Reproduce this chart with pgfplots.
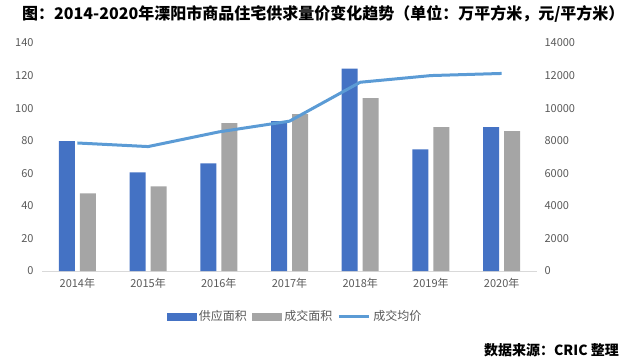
\documentclass[border=0pt]{standalone}
\usepackage{fontspec}
\setmainfont{Noto Sans CJK SC}
\usepackage{pgfplots}
\pgfplotsset{compat=1.18}
\definecolor{cblue}{HTML}{4472C4}
\definecolor{cgray}{HTML}{A5A5A5}
\definecolor{cline}{HTML}{5B9BD5}
\definecolor{ctick}{HTML}{595959}
\definecolor{caxis}{HTML}{D9D9D9}
\begin{document}
\begin{tikzpicture}
\path[use as bounding box] (0pt,0pt) rectangle (628pt,361pt);
\pgfplotsset{
  common/.style={
    at={(42pt,90pt)}, anchor=south west,
    width=495pt, height=228pt, scale only axis,
    xmin=-0.5, xmax=6.5,
    tick style={draw=none},
    major tick length=0pt,
    ticklabel style={font=\fontsize{11}{13}\selectfont, text=ctick},
    /pgf/number format/assume math mode=true,
    /pgf/number format/1000 sep={},
    scaled y ticks=false,
  }
}
\begin{axis}[common,
  ymin=0, ymax=140, ytick={0,20,...,140},
  xtick={0,...,6},
  xticklabels={2014年,2015年,2016年,2017年,2018年,2019年,2020年},
  axis x line*=bottom, axis y line*=left,
  x axis line style={draw=caxis, line width=0.8pt, -},
  y axis line style={draw=none},
  yticklabel style={xshift=-5pt},
  xticklabel style={yshift=-4pt},
]
\addplot[ybar, bar width=16pt, bar shift=-10.5pt, fill=cblue, draw=none]
  coordinates {(0,79.7) (1,60.5) (2,66.1) (3,92.0) (4,124.2) (5,74.7) (6,88.3)};
\addplot[ybar, bar width=16pt, bar shift=10.5pt, fill=cgray, draw=none]
  coordinates {(0,47.6) (1,51.9) (2,90.8) (3,96.4) (4,106.2) (5,88.3) (6,85.9)};
\end{axis}
\begin{axis}[common,
  ymin=0, ymax=14000, ytick={0,2000,...,14000},
  axis y line*=right, hide x axis,
  y axis line style={draw=none},
  yticklabel style={xshift=4pt},
  legend style={at={(0.512,-0.2)}, anchor=center, draw=none, fill=none,
    legend columns=3, font=\fontsize{12}{14}\selectfont, text=ctick,
    nodes={inner sep=3pt},
    /tikz/every even column/.append style={column sep=2pt}},
]
\addlegendimage{legend image code/.code={\fill[cblue] (0pt,-3.5pt) rectangle (29pt,3.5pt);}}
\addlegendentry{供应面积}
\addlegendimage{legend image code/.code={\fill[cgray] (0pt,-3.5pt) rectangle (29pt,3.5pt);}}
\addlegendentry{成交面积}
\addplot[color=cline, line width=3pt,
  legend image code/.code={\draw[cline, line width=3pt] (0pt,0pt) -- (30pt,0pt);}]
  coordinates {(0,7860) (1,7640) (2,8540) (3,9200) (4,11590) (5,12000) (6,12130)};
\addlegendentry{成交均价}
\end{axis}
\node[anchor=west, font=\fontsize{16}{18}\selectfont\bfseries, inner sep=0pt] at (22pt,347pt)
  {图：2014-2020年溧阳市商品住宅供求量价变化趋势（单位：万平方米，元/平方米）};
\node[anchor=east, font=\fontsize{14}{16}\selectfont\bfseries, inner sep=0pt] at (619pt,11pt)
  {数据来源：CRIC 整理};
\end{tikzpicture}
\end{document}
